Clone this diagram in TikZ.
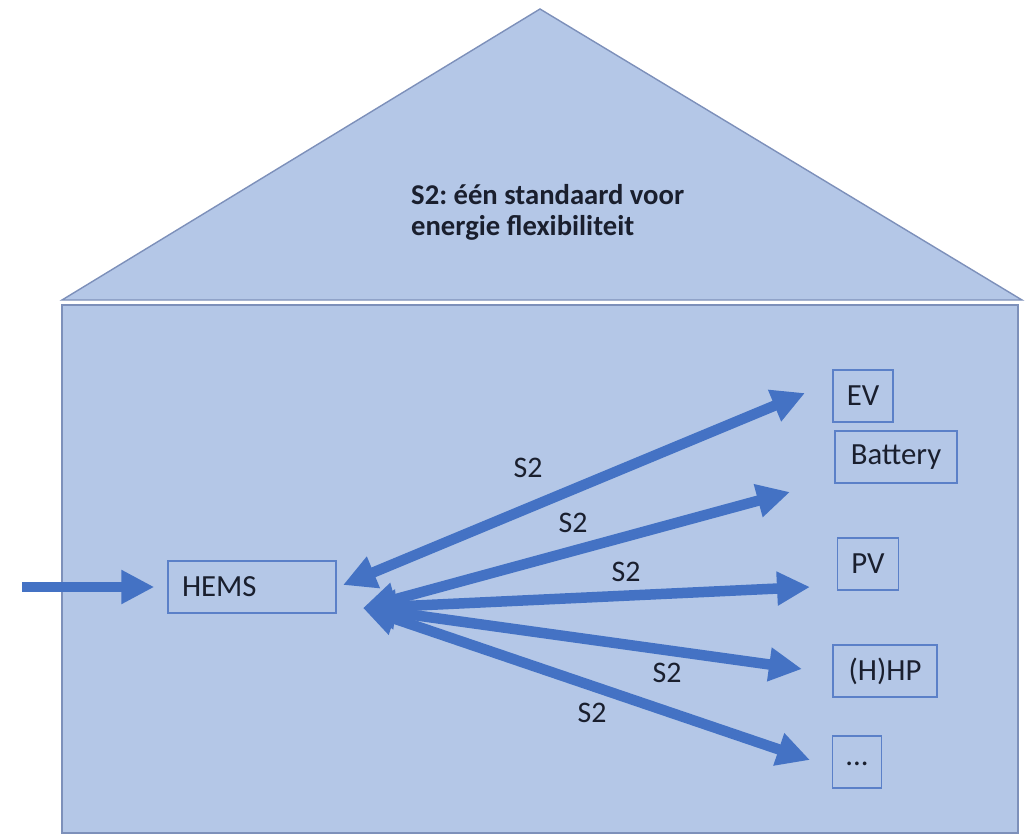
\documentclass[tikz,border=0pt]{standalone}
\usepackage{fontspec}
\setmainfont{Carlito}
\usetikzlibrary{arrows.meta}
\definecolor{housefill}{HTML}{B4C7E7}
\definecolor{houseline}{HTML}{7D90BA}
\definecolor{boxline}{HTML}{5B80C8}
\definecolor{flowblue}{HTML}{4472C4}
\definecolor{inktext}{HTML}{1A1F2E}

\begin{document}
\frenchspacing
\begin{tikzpicture}[x=0.02cm,y=-0.02cm,>={Triangle[length=0.66cm,width=0.64cm]}]
\tikzstyle{device}=[rectangle,draw=boxline,line width=0.8pt,minimum height=1.04cm,text=inktext,font=\fontsize{17.5}{20}\selectfont]
\tikzstyle{flow}=[draw=flowblue,line width=0.21cm]
\tikzstyle{tag}=[text=inktext,font=\fontsize{17}{20}\selectfont]
\useasboundingbox (0,0) rectangle (1025,835);
% the house
\filldraw[draw=houseline,fill=housefill,line width=0.8pt] (62,300) -- (540,9) -- (1022,300) -- cycle;
\filldraw[draw=houseline,fill=housefill,line width=0.8pt] (62,305) rectangle (1018,833);
\node[align=left,anchor=west,text=inktext,font=\bfseries\fontsize{16.3}{17.6}\selectfont] (title) at (405,212) {S2: één standaard voor\\energie flexibiliteit};
% devices
\node[device,minimum width=3.36cm,text width=2.8cm,align=left,inner sep=0.28cm] (hems) at (252,587) {HEMS};
\node[device,minimum width=1.2cm] (ev) at (863,396) {EV};
\node[device,minimum width=2.44cm] (battery) at (896,457) {Battery};
\node[device,minimum width=1.22cm] (pv) at (868,564) {PV};
\node[device,minimum width=2.08cm] (hhp) at (885,671) {(H)HP};
\node[device,minimum width=0.98cm] (more) at (857,762) {\raisebox{-4pt}{...}};
% arrow ends
\coordinate (input) at (22,587);
\coordinate (hub) at (363,608);
\coordinate (evback) at (343,585);
\coordinate (evtip) at (805,393);
\coordinate (battip) at (790,492);
\coordinate (pvtip) at (810,587);
\coordinate (hhptip) at (802,669);
\coordinate (moretip) at (810,760);
\draw[flow,->,shorten >=0.26cm] (input) -- (hems);
\draw[flow,<->] (evback) -- (evtip);
\draw[flow,<->] (hub) -- (battip);
\draw[flow,<->] (hub) -- (pvtip);
\draw[flow,<->] (hub) -- (hhptip);
\draw[flow,<->] (hub) -- (moretip);
% labels
\node[tag] (s2ev) at (528,468) {S2};
\node[tag] (s2bat) at (573,523) {S2};
\node[tag] (s2pv) at (626,572) {S2};
\node[tag] (s2hhp) at (667,673) {S2};
\node[tag] (s2more) at (592,713) {S2};
\end{tikzpicture}
\end{document}
